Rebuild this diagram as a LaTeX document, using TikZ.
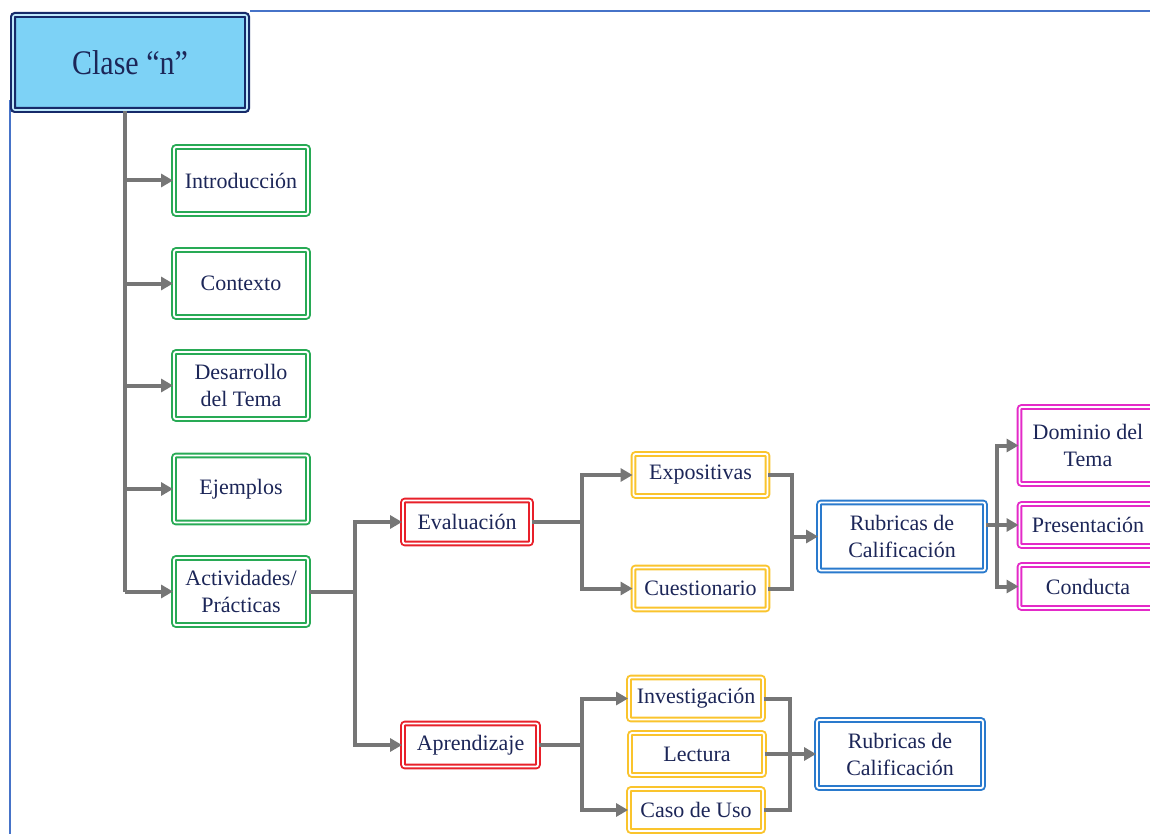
\documentclass[tikz,border=0pt]{standalone}
\usepackage{fontspec}
\setmainfont{Liberation Serif}
\usetikzlibrary{arrows.meta}
\definecolor{txt}{RGB}{28,38,88}
\definecolor{clasefill}{RGB}{125,210,246}
\definecolor{navy}{RGB}{22,42,105}
\definecolor{gboxc}{RGB}{40,170,85}
\definecolor{rboxc}{RGB}{232,32,42}
\definecolor{yboxc}{RGB}{250,196,45}
\definecolor{bboxc}{RGB}{42,122,205}
\definecolor{mboxc}{RGB}{228,42,200}
\definecolor{conc}{RGB}{118,118,118}
\definecolor{framec}{RGB}{70,115,200}
\begin{document}
\begin{tikzpicture}[x=1pt,y=-1pt,
  base/.style={align=center, inner sep=0pt, text=txt, font=\fontsize{22}{27}\selectfont,
     line width=1.9pt, double=white, double distance=1.8pt, fill=white, rounded corners=2pt},
  gbox/.style={base, draw=gboxc, minimum width=134pt, minimum height=67pt},
  rbox/.style={base, draw=rboxc, minimum height=43pt},
  ybox/.style={base, draw=yboxc, minimum width=134pt, minimum height=42pt},
  bbox/.style={base, draw=bboxc, minimum width=166pt, minimum height=68pt},
  mbox/.style={base, draw=mboxc, minimum width=137pt},
  conn/.style={draw=conc, line width=4pt},
  arr/.style={conn, -{Triangle[length=12pt,width=13pt]}},
]
\useasboundingbox (0,0) rectangle (1150,834);
\fill[white] (0,0) rectangle (1150,834);
% frame
\draw[framec, line width=2pt] (250,11) -- (1150,11);
\draw[framec, line width=2pt] (10,100) -- (10,834);

% nodes
\node[base, draw=navy, line width=2.2pt, double=clasefill!50, double distance=1.6pt, fill=clasefill,
      minimum width=234pt, minimum height=95pt,
      font=\fontsize{30}{34}\selectfont] (clase) at (130,62.5) {\scalebox{1}[1.15]{Clase “n”}};
\node[gbox] (intro) at (241,180.5) {Introducción};
\node[gbox] (ctx) at (241,283.5) {Contexto};
\node[gbox] (des) at (241,385.5) {Desarrollo\\del Tema};
\node[gbox] (ej) at (241,489) {Ejemplos};
\node[gbox] (act) at (241,591.5) {Actividades/\\Prácticas};

\node[rbox, minimum width=128pt] (eval) at (467,522) {Evaluación};
\node[rbox, minimum width=135pt] (apr) at (470.5,745) {Aprendizaje};

\node[ybox] (expo) at (700.5,475) {Expositivas};
\node[ybox] (cuest) at (700.5,588.5) {Cuestionario};
\node[ybox] (inv) at (696,698.5) {Investigación};
\node[ybox] (lect) at (697,754) {Lectura};
\node[ybox] (caso) at (696,810) {Caso de Uso};

\node[bbox] (rub1) at (902,536.5) {Rubricas de\\Calificación};
\node[bbox] (rub2) at (900,754) {Rubricas de\\Calificación};

\node[mbox, minimum height=77pt] (dom) at (1088,445.5) {Dominio del\\Tema};
\node[mbox, minimum height=42pt] (pres) at (1088,525) {Presentación};
\node[mbox, minimum height=43pt] (cond) at (1088,586.5) {Conducta};

% branch coordinates
\coordinate (tr) at (125,0);
\coordinate (b1) at (355,0);
\coordinate (b2) at (582,0);
\coordinate (b3) at (792,0);
\coordinate (b4) at (997,0);
\coordinate (b5) at (582,0);
\coordinate (b6) at (790,0);

% trunk
\draw[conn] (tr |- clase.south) -- (tr |- act.west);
\draw[arr] (tr |- intro.west) -- (intro.west);
\draw[arr] (tr |- ctx.west) -- (ctx.west);
\draw[arr] (tr |- des.west) -- (des.west);
\draw[arr] (tr |- ej.west) -- (ej.west);
\draw[arr] (tr |- act.west) -- (act.west);

% actividades
\draw[conn] (act.east) -- (b1 |- act.east);
\draw[arr] (b1 |- act.east) |- (eval.west);
\draw[arr] (b1 |- act.east) |- (apr.west);

% evaluacion
\draw[conn] (eval.east) -- (b2 |- eval.east);
\draw[arr] (b2 |- eval.east) |- (expo.west);
\draw[arr] (b2 |- eval.east) |- (cuest.west);
\draw[conn] (expo.east) -| (b3 |- cuest.east) -- (cuest.east);
\draw[arr] (b3 |- rub1.west) -- (rub1.west);

% rubricas 1
\draw[arr] (rub1.east |- pres.west) -- (pres.west);
\draw[arr] (b4 |- pres.west) |- (dom.west);
\draw[arr] (b4 |- pres.west) |- (cond.west);

% aprendizaje
\draw[conn] (apr.east) -- (b5 |- apr.east);
\draw[arr] (b5 |- apr.east) |- (inv.west);
\draw[arr] (b5 |- apr.east) |- (caso.west);
\draw[conn] (inv.east) -| (b6 |- caso.east) -- (caso.east);
\draw[arr] (lect.east) -- (rub2.west);
\end{tikzpicture}
\end{document}
